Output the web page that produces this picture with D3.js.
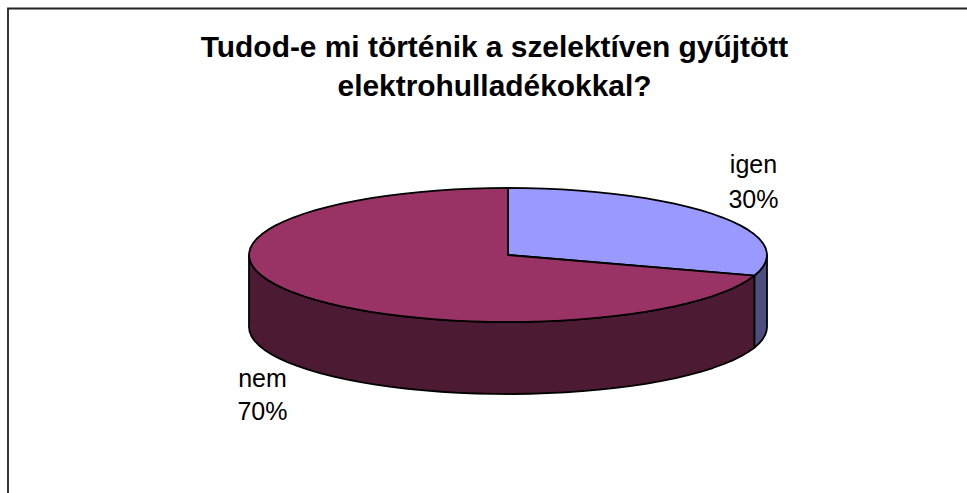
<!DOCTYPE html>
<html><head><meta charset="utf-8">
<script src="https://cdn.jsdelivr.net/npm/d3@7/dist/d3.min.js"></script>
<style>html,body{margin:0;padding:0;background:#fff}svg{display:block}</style>
</head><body>
<svg id="chart" width="967" height="493"></svg>
<script>
const categories = ["igen", "nem"];
const values = [30, 70];
const percentLabels = ["30%", "70%"];
const titleLines = ["Tudod-e mi történik a szelektíven gyűjtött", "elektrohulladékokkal?"];
const topColors = ["#9999ff", "#993366"];
const sideColors = ["#4d4d80", "#4d1a33"];

const FONT = "'Liberation Sans', Arial, sans-serif";
const svg = d3.select("#chart");

// Outer frame: only the top and left rules fall inside the window.
svg.append("path").attr("d", "M8,493V8.5H967").attr("fill", "none")
  .attr("stroke", "#222").attr("stroke-width", 1.8);

// Title
svg.append("g").selectAll("text").data(titleLines).join("text")
  .attr("x", 494.5).attr("y", (d, i) => 57 + i * 39)
  .attr("text-anchor", "middle").attr("font-family", FONT)
  .attr("font-weight", "bold").attr("font-size", 29.9).attr("fill", "#000")
  .text(d => d);

// Tilted pie geometry
const cx = 508, cy = 255, rx = 259, ry = 67, depth = 72;
const px = d3.scaleLinear().domain([-1, 1]).range([cx - rx, cx + rx]);
const py = d3.scaleLinear().domain([-1, 1]).range([cy - ry, cy + ry]);
const pt = (a, dy = 0) => [px(Math.sin(a)), py(-Math.cos(a)) + dy];

const arcs = d3.pie().sort(null).startAngle(0).endAngle(2 * Math.PI)(values);
// The rim is a faceted polygon, one vertex about every four degrees.
const sweep = (a0, a1, dy = 0) => {
  const n = Math.max(2, Math.round((a1 - a0) / (4 * Math.PI / 180)));
  return d3.range(0, n + 1).map(i => pt(a0 + (a1 - a0) * i / n, dy));
};
const line = d3.line();

// Side walls, only along the front half of the rim (90° to 270°)
const front = arcs.map(d => [Math.max(d.startAngle, Math.PI / 2), Math.min(d.endAngle, 3 * Math.PI / 2)]);
svg.append("g").selectAll("path").data(front).join("path")
  .attr("d", ([a0, a1]) => line([...sweep(a0, a1), ...sweep(a0, a1, depth).reverse()]) + "Z")
  .attr("fill", (d, i) => sideColors[i])
  .attr("stroke", "#000").attr("stroke-width", 1.8).attr("stroke-linejoin", "round");

// Top faces
svg.append("g").selectAll("path").data(arcs).join("path")
  .attr("d", d => line([[cx, cy], ...sweep(d.startAngle, d.endAngle)]) + "Z")
  .attr("fill", (d, i) => topColors[i])
  .attr("stroke", "#000").attr("stroke-width", 1.8).attr("stroke-linejoin", "round");

// Data labels: category above, share below
const labelPos = [[753.5, 173], [262.5, 387]];
const labelGap = [35, 33];
const labels = svg.append("g").selectAll("g").data(categories).join("g");
labels.append("text").attr("x", (d, i) => labelPos[i][0]).attr("y", (d, i) => labelPos[i][1])
  .text(d => d);
labels.append("text").attr("x", (d, i) => labelPos[i][0]).attr("y", (d, i) => labelPos[i][1] + labelGap[i])
  .text((d, i) => percentLabels[i]);
labels.selectAll("text").attr("text-anchor", "middle").attr("font-family", FONT)
  .attr("font-size", 25).attr("fill", "#000");
</script>
</body></html>
